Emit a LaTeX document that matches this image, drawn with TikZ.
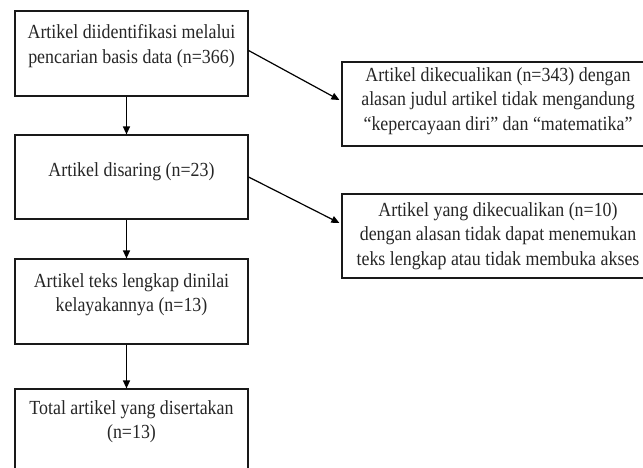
\documentclass[tikz,border=0pt]{standalone}
\usepackage{fontspec}
\setmainfont{Liberation Serif}[FakeStretch=0.895]
\usetikzlibrary{arrows.meta,positioning}

\begin{document}
\begin{tikzpicture}[x=1pt,y=-1pt,
  box/.style={draw=black!90, line width=1.2pt, minimum width=233, minimum height=85},
  sidebox/.style={draw=black!90, line width=1.2pt, minimum width=312, minimum height=84},
  txt/.style={anchor=north, align=center, inner sep=0pt, font=\fontsize{20}{24.5}\selectfont, text=black!85},
  arr/.style={-{Triangle[length=8pt,width=7pt]}, line width=1.2pt}]

\useasboundingbox (0,0) rectangle (643,467);
\clip (0,0) rectangle (643,467);

% kotak kiri
\node [box] (b1) at (131.5,53.5) {};
\node [box, minimum height=84] (b2) at (131.5,177) {};
\node [box] (b3) at (131.5,301.5) {};
\node [box] (b4) at (131.5,431.5) {};

% kotak kanan
\node [sidebox] (r1) at (498,104) {};
\node [sidebox] (r2) at (498,236) {};

% teks
\node [txt, below=14pt of b1.north] (t1) {Artikel diidentifikasi melalui\\pencarian basis data (n=366)};
\node [txt, below=28pt of b2.north] (t2) {Artikel disaring (n=23)};
\node [txt, below=15pt of b3.north] (t3) {Artikel teks lengkap dinilai\\kelayakannya (n=13)};
\node [txt, below=12pt of b4.north] (t4) {Total artikel yang disertakan\\(n=13)};
\node [txt, below=6pt of r1.north] (s1) {Artikel dikecualikan (n=343) dengan\\alasan judul artikel tidak mengandung\\“kepercayaan diri” dan “matematika”};
\node [txt, below=9pt of r2.north] (s2) {Artikel yang dikecualikan (n=10)\\dengan alasan tidak dapat menemukan\\teks lengkap atau tidak membuka akses};

% panah
\draw [arr] ([xshift=-5pt]b1.south) -- ([xshift=-5pt]b2.north);
\draw [arr] ([xshift=-5pt]b2.south) -- ([xshift=-5pt]b3.north);
\draw [arr] ([xshift=-5pt]b3.south) -- ([xshift=-5pt]b4.north);
\draw [arr] ([yshift=3pt]b1.east) -- ([xshift=-2pt,yshift=4pt]r1.west);
\draw [arr] (b2.east) -- ([xshift=-2pt,yshift=13pt]r2.west);

\end{tikzpicture}
\end{document}
